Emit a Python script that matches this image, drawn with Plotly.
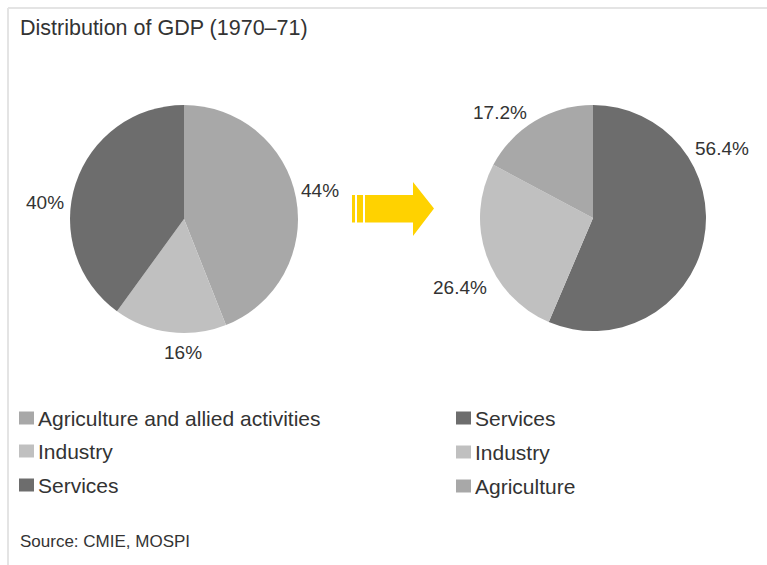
import plotly.graph_objects as go

W, H = 767, 565

# 1970-71 shares of GDP (%)
labels_1970 = ["Agriculture and allied activities", "Industry", "Services"]
values_1970 = [44, 16, 40]

# Later shares of GDP (%)
labels_now = ["Services", "Industry", "Agriculture"]
values_now = [56.4, 26.4, 17.2]

DARK, MID, LIGHT = "#6d6d6d", "#a8a8a8", "#c0c0c0"
colors_1970 = [MID, LIGHT, DARK]
colors_now = [DARK, LIGHT, MID]

FONT = "Liberation Sans, Arial, sans-serif"
TEXT = "#333333"


def px(x):
    return x / W


def py(y):
    return 1 - y / H


def pie_domain(cx, cy, r):
    return dict(x=[px(cx - r), px(cx + r)], y=[py(cy + r), py(cy - r)])


fig = go.Figure()
fig.add_trace(go.Pie(
    labels=labels_1970, values=values_1970, sort=False, direction="clockwise",
    rotation=0, marker=dict(colors=colors_1970, line=dict(width=0)),
    textinfo="none", hovertemplate="%{label}: %{value}%<extra></extra>",
    domain=pie_domain(184, 219, 114), name="1970-71",
))
fig.add_trace(go.Pie(
    labels=labels_now, values=values_now, sort=False, direction="clockwise",
    rotation=0, marker=dict(colors=colors_now, line=dict(width=0)),
    textinfo="none", hovertemplate="%{label}: %{value}%<extra></extra>",
    domain=pie_domain(593, 218, 113), name="Now",
))

annotations = []
shapes = []

# value labels beside each slice
label_pos_1970 = [(320, 190), (183, 352), (45, 202)]
label_pos_now = [(722, 148), (460, 287), (500, 113)]
for vals, pos in ((values_1970, label_pos_1970), (values_now, label_pos_now)):
    for v, (x, y) in zip(vals, pos):
        annotations.append(dict(
            x=px(x), y=py(y), xref="paper", yref="paper", showarrow=False,
            text=f"{v:g}%", font=dict(size=19, color=TEXT, family=FONT),
            xanchor="center", yanchor="middle",
        ))

annotations.append(dict(
    x=px(18), y=py(28), xref="paper", yref="paper", showarrow=False,
    text="Distribution of GDP (1970\u201371)", xanchor="left", yanchor="middle",
    font=dict(size=21.5, color=TEXT, family=FONT),
))
annotations.append(dict(
    x=px(18), y=py(541), xref="paper", yref="paper", showarrow=False,
    text="Source: CMIE, MOSPI", xanchor="left", yanchor="middle",
    font=dict(size=17, color=TEXT, family=FONT),
))

# key for each pie: colour swatch + category name
for labels, colors, x_sw, rows in (
    (labels_1970, colors_1970, 19, (418, 451, 485)),
    (labels_now, colors_now, 456, (418, 452, 486)),
):
    for lab, col, yc in zip(labels, colors, rows):
        shapes.append(dict(type="rect", xref="paper", yref="paper",
                           x0=px(x_sw), x1=px(x_sw + 15), y0=py(yc + 6.5), y1=py(yc - 6.5),
                           fillcolor=col, line=dict(width=0)))
        annotations.append(dict(
            x=px(x_sw + 17), y=py(yc), xref="paper", yref="paper", showarrow=False,
            text=lab, xanchor="left", yanchor="middle",
            font=dict(size=21, color=TEXT, family=FONT),
        ))

# frame lines along the top and left edges
shapes += [
    dict(type="line", xref="paper", yref="paper", x0=px(8), x1=1, y0=py(8), y1=py(8),
         line=dict(color="#e4e4e4", width=2)),
    dict(type="line", xref="paper", yref="paper", x0=px(8), x1=px(8), y0=py(8), y1=0,
         line=dict(color="#e4e4e4", width=2)),
]

# yellow transition arrow between the pies
YELLOW = "#ffd200"
for x0, x1 in ((352, 355), (357, 363)):
    shapes.append(dict(type="rect", xref="paper", yref="paper",
                       x0=px(x0), x1=px(x1), y0=py(222.5), y1=py(195),
                       fillcolor=YELLOW, line=dict(width=0)))
arrow_pts = [(365, 195), (413, 195), (413, 182), (434, 208.5), (413, 236), (413, 222.5), (365, 222.5)]
path = "M " + " L ".join(f"{px(x):.5f},{py(y):.5f}" for x, y in arrow_pts) + " Z"
shapes.append(dict(type="path", xref="paper", yref="paper", path=path,
                   fillcolor=YELLOW, line=dict(width=0)))

fig.update_layout(
    width=W, height=H, margin=dict(l=0, r=0, t=0, b=0),
    paper_bgcolor="white", plot_bgcolor="white",
    showlegend=False,
    annotations=annotations, shapes=shapes,
    font=dict(family=FONT, color=TEXT),
)

fig.write_html("out.html")
